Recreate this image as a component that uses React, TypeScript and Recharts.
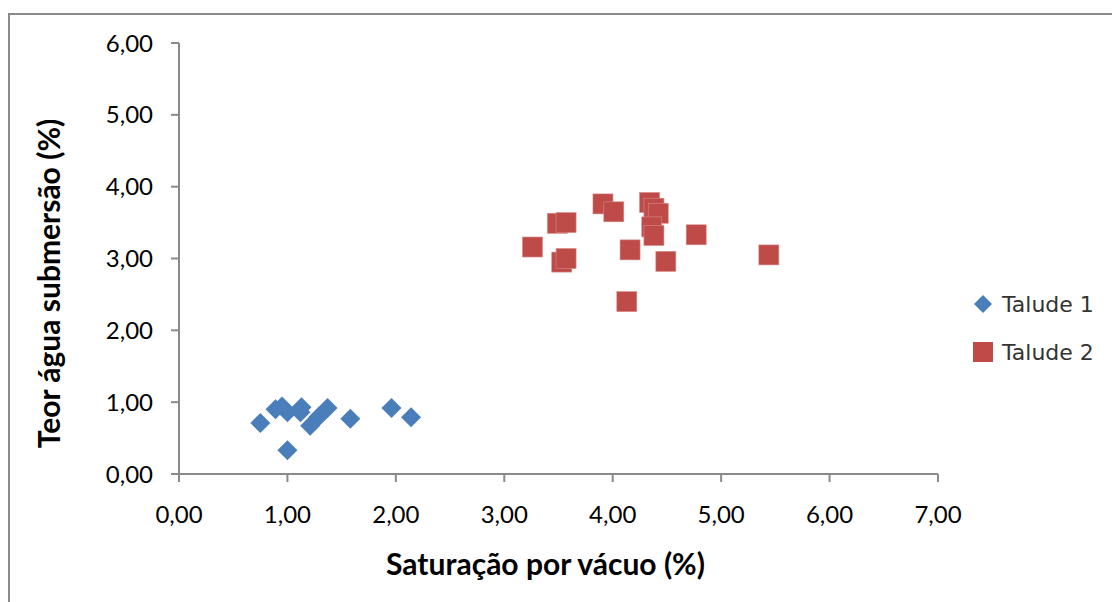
import { ScatterChart, Scatter, XAxis, YAxis } from 'recharts';

// Talude 1 (vacuum saturation %, submersion water content %)
const talude1X = [0.75, 0.89, 0.95, 1.0, 1.13, 1.12, 1.21, 1.29, 1.37, 1.58, 1.0, 1.96, 2.14];
const talude1Y = [0.71, 0.9, 0.94, 0.86, 0.93, 0.86, 0.67, 0.8, 0.92, 0.77, 0.33, 0.92, 0.79];

// Talude 2
const talude2X = [3.26, 3.49, 3.57, 3.53, 3.57, 3.91, 4.01, 4.16, 4.13, 4.34, 4.38, 4.42, 4.36, 4.38, 4.49, 4.77, 5.44];
const talude2Y = [3.16, 3.49, 3.5, 2.95, 3.0, 3.76, 3.65, 3.12, 2.4, 3.78, 3.7, 3.63, 3.44, 3.32, 2.96, 3.33, 3.05];

const xTicks = [0, 1, 2, 3, 4, 5, 6, 7];
const yTicks = [0, 1, 2, 3, 4, 5, 6];
const seriesNames = ['Talude 1', 'Talude 2'];

const data1 = talude1X.map((x, i) => ({ x, y: talude1Y[i] }));
const data2 = talude2X.map((x, i) => ({ x, y: talude2Y[i] }));

const BLUE = '#4a7ebb';
const RED = '#be4b48';
const FONT = 'Lato, "Open Sans", sans-serif';
const fmt = (v: number) => v.toFixed(2).replace('.', ',');

const Diamond = ({ cx, cy }: any) => (
  <path d={`M${cx},${cy - 10}L${cx + 10},${cy}L${cx},${cy + 10}L${cx - 10},${cy}Z`} fill={BLUE} />
);
const Square = ({ cx, cy }: any) => (
  <rect x={cx - 10} y={cy - 10} width={20} height={20} fill={RED} stroke="#d88a88" strokeWidth={0.6} />
);

const LegendBox = () => (
  <div style={{ position: 'absolute', left: 972, top: 280, fontFamily: '"DejaVu Sans", sans-serif', fontSize: 22, color: '#333' }}>
    {seriesNames.map((name, i) => (
      <div key={name} style={{ display: 'flex', alignItems: 'center', height: 48 }}>
        <svg width={22} height={22} style={{ marginRight: 8 }}>
          {i === 0
            ? <path d="M11,2L20,11L11,20L2,11Z" fill={BLUE} />
            : <rect x={1} y={1} width={20} height={20} fill={RED} />}
        </svg>
        <span>{name}</span>
      </div>
    ))}
  </div>
);

export default function App() {
  return (
    <div style={{ position: 'fixed', left: 0, top: 0, width: 1112, height: 602, background: '#fff', overflow: 'hidden' }}>
      <div style={{ position: 'absolute', left: 8, top: 13, width: 1200, height: 700, border: '2px solid #8a8a8a' }} />
      <div style={{ position: 'absolute', left: 0, top: 0 }}>
        <ScatterChart width={1112} height={602} margin={{ top: 43, right: 174, bottom: 0, left: 1 }}>
          <XAxis
            type="number"
            dataKey="x"
            domain={[0, 7]}
            ticks={xTicks}
            tickFormatter={fmt}
            height={128}
            stroke="#8a8a8a"
            strokeWidth={2}
            tickSize={8}
            tickMargin={24}
            tick={{ fill: '#000', fontSize: 24, fontFamily: FONT }}
            label={{
              content: ({ viewBox }: any) => (
                <text x={viewBox.x + viewBox.width / 2 - 13} y={575} textAnchor="middle"
                  fontFamily={FONT} fontWeight="bold" fontSize={30} fill="#000">
                  Saturação por vácuo (%)
                </text>
              ),
            }}
          />
          <YAxis
            type="number"
            dataKey="y"
            domain={[0, 6]}
            ticks={yTicks}
            tickFormatter={fmt}
            width={178}
            stroke="#8a8a8a"
            strokeWidth={2}
            tickSize={8}
            tickMargin={18}
            tick={{ fill: '#000', fontSize: 24, fontFamily: FONT }}
            label={{
              content: ({ viewBox }: any) => {
                const cx = viewBox.x + 47;
                const cy = viewBox.y + viewBox.height / 2 + 25;
                return (
                  <text x={cx} y={cy} textAnchor="middle" dominantBaseline="central"
                    transform={`rotate(-90, ${cx}, ${cy})`}
                    fontFamily={FONT} fontWeight="bold" fontSize={30} fill="#000">
                    Teor água submersão (%)
                  </text>
                );
              },
            }}
          />
          <Scatter name={seriesNames[0]} data={data1} shape={<Diamond />} isAnimationActive={false} />
          <Scatter name={seriesNames[1]} data={data2} shape={<Square />} isAnimationActive={false} />
        </ScatterChart>
      </div>
      <LegendBox />
    </div>
  );
}
